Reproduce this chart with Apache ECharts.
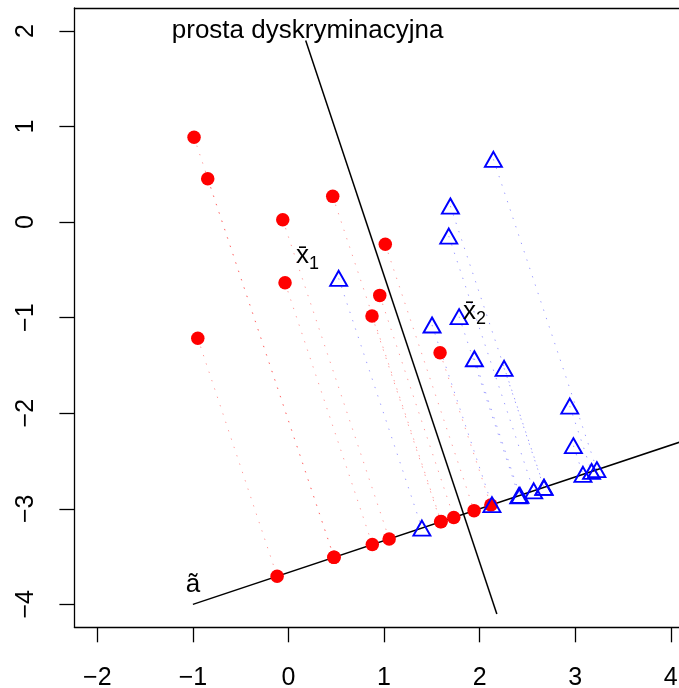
<!DOCTYPE html>
<html>
<head>
<meta charset="utf-8">
<script src="https://cdn.jsdelivr.net/npm/echarts@6/dist/echarts.min.js"></script>
<style>
  html, body { margin: 0; padding: 0; background: #fff; }
  #main { width: 679px; height: 688px; }
</style>
</head>
<body>
<div id="main"></div>
<script>
// grupa 1 (czerwone kropki) i grupa 2 (niebieskie trojkaty)
var group1 = [
    [-0.988, 0.887], [-0.845, 0.453], [0.463, 0.269], [-0.060, 0.024], [1.013, -0.233],
    [-0.036, -0.635], [0.955, -0.767], [0.874, -0.983], [-0.949, -1.216], [1.586, -1.367]
];
var group2 = [
    [2.144, 0.657], [1.694, 0.168], [1.677, -0.146], [0.525, -0.589], [1.502, -1.077],
    [1.785, -0.990], [1.945, -1.430], [2.256, -1.530], [2.943, -1.925], [2.981, -2.340]
];
// prosta a~ i prosta dyskryminacyjna
var aLine = [[-1, -4], [5, -2]];
var discLine = [[0.18, 1.9], [2.18, -4.1]];
var meanPos = [[0.2, -0.355], [1.947, -0.935]];
var discTextPos = [0.2, 2.0];
var aTextPos = [-1.0, -3.8];
var xTicks = [-2, -1, 0, 1, 2, 3, 4];
var yTicks = [-4, -3, -2, -1, 0, 1, 2];

// rzut prostopadly na prosta a~
function rzut(p) {
    var dx = aLine[1][0] - aLine[0][0], dy = aLine[1][1] - aLine[0][1];
    var t = ((p[0] - aLine[0][0]) * dx + (p[1] - aLine[0][1]) * dy) / (dx * dx + dy * dy);
    return [aLine[0][0] + t * dx, aLine[0][1] + t * dy];
}
var proj1 = group1.map(rzut);
var proj2 = group2.map(rzut);

var segs1 = group1.map(function (p, i) { return { coords: [p, proj1[i]] }; });
var segs2 = group2.map(function (p, i) { return { coords: [p, proj2[i]] }; });

function minus(v) { return String(v).replace('-', '\u2212'); }

var font = 'Liberation Sans, Arial, Helvetica, sans-serif';
var triStyle = { color: 'rgba(0,0,0,0)', borderColor: '#0000ff', borderWidth: 1.9, opacity: 1 };
var axisCol = { color: '#000', width: 1.3 };

var dom = document.getElementById('main');
var myChart = echarts.init(dom);
var option = {
    backgroundColor: '#fff',
    animation: false,
    grid: { left: 74.4, top: 8, bottom: 60.7, right: 0, containLabel: false, outerBoundsMode: 'none' },
    xAxis: [{
        type: 'value', min: -2.24, max: 4.086,
        splitLine: { show: false },
        axisLine: { show: true, onZero: false, lineStyle: axisCol },
        axisTick: { show: true, length: 15, customValues: xTicks, lineStyle: axisCol },
        axisLabel: {
            customValues: xTicks, margin: 38, color: '#000', fontSize: 25, fontFamily: font,
            formatter: minus
        }
    }, {
        // gorna krawedz ramki
        type: 'value', position: 'top', min: -2.24, max: 4.086,
        splitLine: { show: false },
        axisLine: { show: true, onZero: false, lineStyle: axisCol },
        axisTick: { show: false },
        axisLabel: { show: false }
    }],
    yAxis: {
        type: 'value', min: -4.24, max: 2.24,
        splitLine: { show: false },
        axisLine: { show: true, onZero: false, lineStyle: axisCol },
        axisTick: { show: true, length: 15, customValues: yTicks, lineStyle: axisCol },
        axisLabel: {
            customValues: yTicks, margin: 36, rotate: 90, color: '#000', fontSize: 25, fontFamily: font,
            formatter: minus
        }
    },
    series: [{
        type: 'lines', coordinateSystem: 'cartesian2d', silent: true, z: 1,
        lineStyle: { color: 'rgba(255,0,0,0.4)', width: 1, type: [1.3, 7.5], opacity: 1 },
        data: segs1
    }, {
        type: 'lines', coordinateSystem: 'cartesian2d', silent: true, z: 1,
        lineStyle: { color: 'rgba(0,0,255,0.4)', width: 1, type: [1.3, 7.5], opacity: 1 },
        data: segs2
    }, {
        type: 'line', data: aLine, symbol: 'none', silent: true, z: 2,
        lineStyle: { color: '#000', width: 1.5 }
    }, {
        type: 'line', data: discLine, symbol: 'none', silent: true, z: 2,
        lineStyle: { color: '#000', width: 1.5 }
    }, {
        type: 'scatter', data: group1, symbol: 'circle', symbolSize: 13.5, z: 3,
        itemStyle: { color: '#ff0000', opacity: 1 }
    }, {
        type: 'scatter', data: group2, symbol: 'triangle', symbolSize: [17, 15], z: 3,
        itemStyle: triStyle
    }, {
        type: 'scatter', data: proj1, symbol: 'circle', symbolSize: 13.5, z: 3,
        itemStyle: { color: '#ff0000', opacity: 1 }
    }, {
        type: 'scatter', data: proj2, symbol: 'triangle', symbolSize: [17, 15], z: 4,
        itemStyle: triStyle
    }, {
        type: 'scatter', symbolSize: 0, silent: true, z: 5,
        itemStyle: { opacity: 1 },
        label: {
            show: true, position: 'inside', color: '#000', fontFamily: font,
            rich: {
                m: { fontSize: 26, lineHeight: 34, fontFamily: font, color: '#000' },
                s: { fontSize: 18, lineHeight: 23, verticalAlign: 'bottom', fontFamily: font, color: '#000' },
                t: { fontSize: 26, fontFamily: font, color: '#000' }
            }
        },
        data: [
            { value: meanPos[0], label: { formatter: '{m|x\u0304}{s|1}' } },
            { value: meanPos[1], label: { formatter: '{m|x\u0304}{s|2}' } },
            { value: discTextPos, label: { formatter: '{t|prosta dyskryminacyjna}' } },
            { value: aTextPos, label: { formatter: '{t|\u00e3}' } }
        ]
    }]
};
myChart.setOption(option, true);
window.onresize = myChart.resize;
</script>
</body>
</html>
